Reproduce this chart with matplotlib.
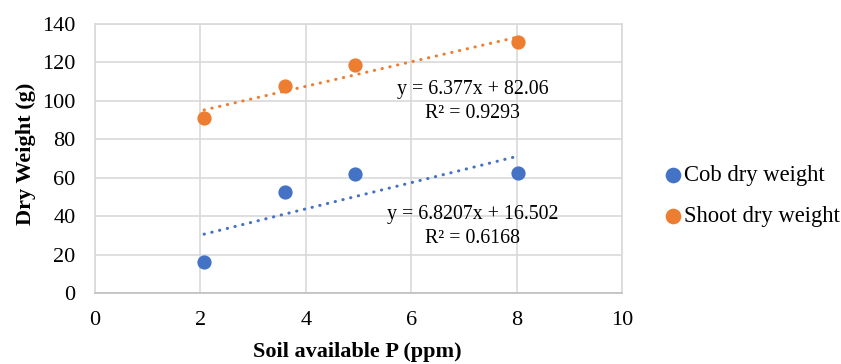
import matplotlib
matplotlib.use("Agg")
import matplotlib.pyplot as plt
import numpy as np

plt.rcParams['font.family'] = ['Liberation Serif', 'DejaVu Serif']

x_vals = [2.07, 3.6, 4.93, 8.03]
cob = [16, 52.5, 62, 62.5]
shoot = [91, 107.5, 118.5, 130.5]
cob_fit = (6.8207, 16.502)
shoot_fit = (6.377, 82.06)
cob_label = "Cob dry weight"
shoot_label = "Shoot dry weight"
cob_eq = "y = 6.8207x + 16.502\nR² = 0.6168"
shoot_eq = "y = 6.377x + 82.06\nR² = 0.9293"

blue = "#4472C4"
orange = "#ED7D31"

fig = plt.figure(figsize=(8.41, 3.64), dpi=100)
ax = fig.add_axes([95/841, 1-293/364, (622-95)/841, (293-24)/364])

ax.scatter(x_vals, cob, s=105, color=blue, label=cob_label, zorder=3, linewidths=0)
ax.scatter(x_vals, shoot, s=105, color=orange, label=shoot_label, zorder=3, linewidths=0)

xs = np.array([min(x_vals), max(x_vals)])
ax.plot(xs, cob_fit[0]*xs + cob_fit[1], linestyle=(0, (0.1, 2.5)), color=blue, lw=2.2, zorder=2, dash_capstyle='round')
ax.plot(xs, shoot_fit[0]*xs + shoot_fit[1], linestyle=(0, (0.1, 2.5)), color=orange, lw=2.2, zorder=2, dash_capstyle='round')

ax.text(7.16, 99.8, shoot_eq, ha='center', va='center', fontsize=14.3, linespacing=1.35)
ax.text(7.16, 34.4, cob_eq, ha='center', va='center', fontsize=14.3, linespacing=1.35)

ax.set_xlim(0, 10)
ax.set_ylim(0, 140)
ax.set_xticks(range(0, 11, 2))
ax.set_yticks(range(0, 141, 20))
ax.grid(True, color="#d9d9d9", lw=1.2)
ax.set_axisbelow(True)
for s in ax.spines.values():
    s.set_color("#d9d9d9")
    s.set_linewidth(1.2)
ax.spines['bottom'].set_color("#bfbfbf")
ax.tick_params(length=0, labelsize=16)
ax.tick_params(axis='y', pad=14)
ax.tick_params(axis='x', pad=13)
ax.set_xlabel("Soil available P (ppm)", fontsize=16, fontweight='bold')
ax.xaxis.set_label_coords(0.4975, -0.182)
ax.set_ylabel("Dry Weight (g)", fontsize=16, fontweight='bold')
ax.yaxis.set_label_coords(-0.112, 0.517)

leg = fig.legend(loc='center left', bbox_to_anchor=(659/841, 1-196/364), frameon=False,
                 fontsize=16.3, handletextpad=-0.1, labelspacing=0.85, handlelength=1.2,
                 markerscale=1.1, borderpad=0, borderaxespad=0)

fig.savefig("out.png", dpi=100)
